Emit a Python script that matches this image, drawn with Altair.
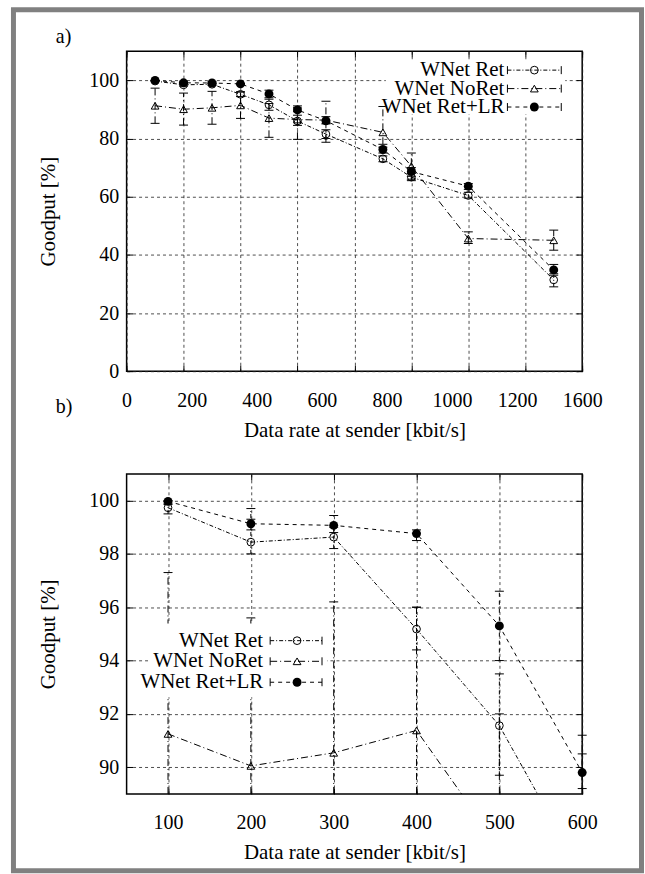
import altair as alt
import pandas as pd

FONT = "Liberation Serif"

series_names = ["WNet Ret", "WNet NoRet", "WNet Ret+LR"]
rates = [100, 200, 300, 400, 500, 600, 700, 900, 1000, 1200, 1500]

ret_gp = [99.73, 98.44, 98.63, 95.18, 91.56, 86.0, 81.5, 73.0, 66.7, 60.4, 31.4]
ret_lo = [99.5, 98.0, 98.2, 94.4, 89.7, 84.5, 80.0, 72.0, 65.5, 59.5, 29.0]
ret_hi = [99.9, 99.7, 99.0, 96.0, 93.5, 88.0, 83.0, 74.0, 68.0, 61.5, 33.0]

noret_gp = [91.25, 90.05, 90.54, 91.38, 87.0, 86.5, 86.3, 82.1, 70.5, 45.6, 45.0]
noret_lo = [85.2, 84.6, 84.9, 86.9, 80.4, 79.7, 78.7, 78.0, 66.0, 43.9, 41.6]
noret_hi = [97.3, 95.6, 96.2, 96.0, 92.0, 91.2, 92.8, 91.0, 75.0, 47.9, 48.5]

lr_gp = [99.97, 99.13, 99.07, 98.76, 95.3, 89.8, 86.1, 76.2, 68.6, 63.6, 34.8]
lr_lo = [99.85, 98.9, 98.8, 98.5, 94.0, 89.2, 85.0, 75.0, 67.0, 62.5, 33.5]
lr_hi = [100.0, 99.3, 99.44, 98.9, 96.6, 90.5, 87.5, 77.0, 70.0, 64.5, 36.7]

x_labels_a = ["0", "200", "400", "600", "800", "1000", "1200", "1600"]
x_grid_a = [0, 200, 400, 600, 800, 1000, 1200, 1400, 1600]
y_ticks_a = [0, 20, 40, 60, 80, 100]
x_ticks_b = [100, 200, 300, 400, 500, 600]
y_ticks_b = [90, 92, 94, 96, 98, 100]

rows = []
for name, gp, lo, hi in zip(series_names, [ret_gp, noret_gp, lr_gp],
                            [ret_lo, noret_lo, lr_lo], [ret_hi, noret_hi, lr_hi]):
    for r, g, l, h in zip(rates, gp, lo, hi):
        rows.append(dict(series=name, rate=r, goodput=g, lo=l, hi=h))
df = pd.DataFrame(rows)
caps = pd.concat([df.assign(cap=df["lo"]), df.assign(cap=df["hi"])], ignore_index=True)

W, H = 457, 321
dash_range = [[4, 2, 1, 2], [7, 3, 1, 3], [4, 4]]
shape_range = ["circle", "triangle-up", "circle"]
one = pd.DataFrame({"k": [0]})


def panel(xdom, ydom, xgrid, ygrid, xlabvals, xlabexpr, tag, tagy, leg, border=None):
    x0, x1 = xdom
    y0, y1 = ydom
    xs = alt.Scale(domain=xdom, nice=False, zero=False)
    ys = alt.Scale(domain=ydom, nice=False, zero=False)
    base = alt.Chart(df)
    dash = alt.StrokeDash("series:N", scale=alt.Scale(domain=series_names, range=dash_range), legend=None)

    def X(field="rate:Q", **kw):
        return alt.X(field, scale=xs, axis=alt.Axis(**kw))

    def Y(field="goodput:Q", **kw):
        return alt.Y(field, scale=ys, axis=alt.Axis(**kw))

    layers = []
    # grid
    gkw = dict(labels=False, ticks=False, domain=False, grid=True, gridDash=[3, 3],
               gridColor="#222222", gridWidth=0.8, title="")
    inv = base.transform_filter(alt.datum.rate <= x1).transform_filter(alt.datum.goodput >= y0)
    layers.append(inv.mark_point(opacity=0).encode(
        x=X(orient="bottom", values=xgrid, **gkw), y=Y(orient="left", values=ygrid, **gkw)))
    # inward ticks bottom / left and top / right
    tkw = dict(labels=False, ticks=True, tickSize=6, tickColor="black", tickWidth=1,
               domain=False, grid=False, title="", offset=-6)
    layers.append(inv.mark_point(opacity=0).encode(
        x=X(orient="bottom", values=xgrid, **tkw), y=Y(orient="left", values=ygrid, **tkw)))
    layers.append(inv.mark_point(opacity=0).encode(
        x=X(orient="top", values=xgrid, **tkw), y=Y(orient="right", values=ygrid, **tkw)))
    # lines (carry the labelled axes)
    xlab = dict(orient="bottom", values=xlabvals, ticks=False, domain=False, grid=False,
                labelPadding=19, labelFlush=False,
                title="Data rate at sender [kbit/s]", titlePadding=9)
    if xlabexpr:
        xlab["labelExpr"] = xlabexpr
    layers.append(base.transform_filter(alt.datum.rate <= x1).mark_line(
        clip=True, color="black", strokeWidth=1).encode(
        x=X(**xlab),
        y=Y(orient="left", values=ygrid, ticks=False, domain=False, grid=False,
            labelPadding=8, labelFlush=False, title="Goodput [%]", titlePadding=30),
        strokeDash=dash, detail="series:N"))
    # error bars, clamped to the visible range
    layers.append(base.transform_filter(alt.datum.rate <= x1)
                  .transform_filter(alt.datum.hi >= y0)
                  .transform_calculate(lo_c="max(datum.lo, %s)" % y0, hi_c="min(datum.hi, %s)" % y1)
                  .mark_rule(clip=True, color="black", strokeWidth=1).encode(
        x=alt.X("rate:Q", scale=xs, axis=None),
        y=alt.Y("lo_c:Q", scale=ys, axis=None), y2="hi_c:Q", strokeDash=dash))
    layers.append(alt.Chart(caps).transform_filter(alt.datum.rate <= x1)
                  .transform_filter(alt.datum.cap >= y0).transform_filter(alt.datum.cap <= y1)
                  .mark_tick(orient="horizontal", size=9,
                             thickness=1, color="black", opacity=1).encode(
        x=alt.X("rate:Q", scale=xs, axis=None), y=alt.Y("cap:Q", scale=ys, axis=None)))
    # markers
    vis = base.transform_filter(alt.datum.rate <= x1).transform_filter(alt.datum.goodput >= y0)
    layers.append(vis.transform_filter(alt.datum.series != "WNet Ret+LR").mark_point(
        filled=False, color="black", strokeWidth=1, size=60, opacity=1).encode(
        x=alt.X("rate:Q", scale=xs, axis=None), y=alt.Y("goodput:Q", scale=ys, axis=None),
        shape=alt.Shape("series:N", scale=alt.Scale(domain=series_names, range=shape_range), legend=None)))
    layers.append(vis.transform_filter(alt.datum.series == "WNet Ret+LR").mark_point(
        filled=True, color="black", size=80, opacity=1, shape="circle").encode(
        x=alt.X("rate:Q", scale=xs, axis=None), y=alt.Y("goodput:Q", scale=ys, axis=None)))
    # legend
    box, rows_y, text_x, sx1, sx2, mx = leg
    o = alt.Chart(one)
    layers.append(o.mark_rect(fill="white").encode(
        x=alt.value(box[0]), x2=alt.value(box[1]), y=alt.value(box[2]), y2=alt.value(box[3])))
    for i, name in enumerate(series_names):
        yy = rows_y[i]
        layers.append(o.mark_text(align="right", baseline="middle", font=FONT, fontSize=21,
                                  color="black").encode(
            x=alt.value(text_x), y=alt.value(yy), text=alt.value(name)))
        layers.append(o.mark_rule(color="black", strokeWidth=1, strokeDash=dash_range[i]).encode(
            x=alt.value(sx1), x2=alt.value(sx2), y=alt.value(yy)))
        for ex in (sx1, sx2):
            layers.append(o.mark_rule(color="black", strokeWidth=1).encode(
                x=alt.value(ex), y=alt.value(yy - 4), y2=alt.value(yy + 4)))
        layers.append(o.mark_point(shape=shape_range[i], filled=(i == 2), color="black",
                                   size=80 if i == 2 else 60, opacity=1, strokeWidth=1).encode(
            x=alt.value(mx), y=alt.value(yy)))
    # panel tag
    layers.append(o.mark_text(align="left", baseline="alphabetic", font=FONT, fontSize=20,
                              color="black").encode(
        x=alt.value(-71), y=alt.value(tagy), text=alt.value(tag)))
    if border:
        layers.append(o.mark_rect(fillOpacity=0, stroke="#808080", strokeWidth=5).encode(
            x=alt.value(border[0]), x2=alt.value(border[1]),
            y=alt.value(border[2]), y2=alt.value(border[3])))
    return alt.layer(*layers).resolve_axis(x="independent", y="independent").properties(
        width=W, height=H)


labvals_a = [k * 1600 / 7 for k in range(len(x_labels_a))]
labexpr_a = "[" + ",".join("'%s'" % s for s in x_labels_a) + "][round(datum.value*7/1600)]"

top = panel([0, 1600], [0, 110], x_grid_a, y_ticks_a, labvals_a, labexpr_a, "a)", -8,
            ([260, 440, 8, 63], [19, 37.5, 56], 379, 382, 436, 409),
            border=[-113.5, 516.5, -41.5, 822])
bottom = panel([50, 600], [89, 101], x_ticks_b, y_ticks_b, x_ticks_b, None, "b)", -61,
               ([22, 201, 150, 224], [167.3, 188, 209], 137, 144, 196, 171))

chart = alt.vconcat(top, bottom, spacing=103, bounds="flush").properties(
    padding={"left": 10, "top": 5, "right": 0, "bottom": -2}, background="white"
).configure(font=FONT).configure_view(stroke="black", strokeWidth=1.5).configure_axis(
    labelFont=FONT, titleFont=FONT, labelFontSize=20, titleFontSize=21,
    titleFontWeight="normal", labelColor="black", titleColor="black")

chart.save("out.html", embed_options={"renderer": "svg", "actions": False})
